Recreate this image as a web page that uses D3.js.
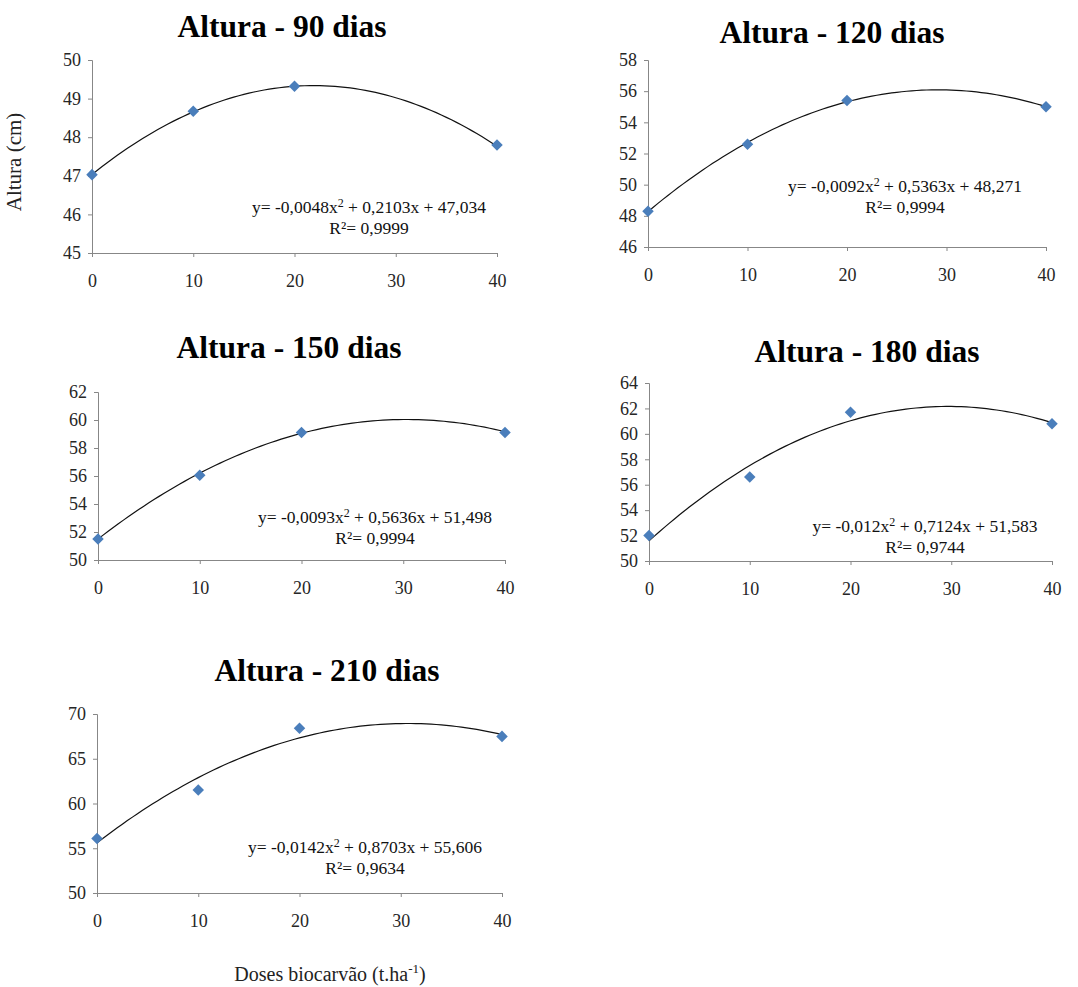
<!DOCTYPE html>
<html>
<head>
<meta charset="utf-8">
<script src="https://cdn.jsdelivr.net/npm/d3@7"></script>
<style>
body { margin: 0; background: #fff; }
</style>
</head>
<body>
<div id="chart"></div>
<script>
// Data
const doses = [0, 10, 20, 40];
const xTicks = [0, 10, 20, 30, 40];
const titles = ["Altura - 90 dias", "Altura - 120 dias", "Altura - 150 dias", "Altura - 180 dias", "Altura - 210 dias"];
const alt90 = [47.03, 48.67, 49.32, 47.80];
const alt120 = [48.3, 52.6, 55.4, 55.0];
const alt150 = [51.5, 56.05, 59.1, 59.1];
const alt180 = [52.0, 56.6, 61.7, 60.8];
const alt210 = [56.1, 61.5, 68.4, 67.5];
const yDomains = [[45, 50], [46, 58], [50, 62], [50, 64], [50, 70]];
const yTicks = [
  [45, 46, 47, 48, 49, 50],
  [46, 48, 50, 52, 54, 56, 58],
  [50, 52, 54, 56, 58, 60, 62],
  [50, 52, 54, 56, 58, 60, 62, 64],
  [50, 55, 60, 65, 70]
];
// trendline coefficients [a, b, c] for y = a x^2 + b x + c
const coefs = [
  [-0.0048, 0.2103, 47.034],
  [-0.0092, 0.5363, 48.271],
  [-0.0093, 0.5636, 51.498],
  [-0.012, 0.7124, 51.583],
  [-0.0142, 0.8703, 55.606]
];
const eqLabels = [
  ["y= -0,0048x", "+ 0,2103x + 47,034", "R²= 0,9999"],
  ["y= -0,0092x", "+ 0,5363x + 48,271", "R²= 0,9994"],
  ["y= -0,0093x", "+ 0,5636x + 51,498", "R²= 0,9994"],
  ["y= -0,012x", "+ 0,7124x + 51,583", "R²= 0,9744"],
  ["y= -0,0142x", "+ 0,8703x + 55,606", "R²= 0,9634"]
];
const series = [alt90, alt120, alt150, alt180, alt210];

const serif = "'Liberation Serif', 'Times New Roman', Tinos, 'DejaVu Serif', serif";

// Layout of each panel (pixels)
const layout = [
  { l: 92, r: 497, t: 60, b: 253, tx: 282, ty: 37, ex: 369, ey: 213 },
  { l: 648, r: 1046, t: 60, b: 247, tx: 832, ty: 43, ex: 905, ey: 192 },
  { l: 98, r: 505, t: 392, b: 560, tx: 289, ty: 358, ex: 375, ey: 523 },
  { l: 649, r: 1052, t: 383, b: 561, tx: 867, ty: 362, ex: 925, ey: 532 },
  { l: 97, r: 502, t: 714, b: 893, tx: 327, ty: 681, ex: 365, ey: 853 }
];

const svg = d3.select("#chart")
  .append("svg")
  .attr("width", 1078)
  .attr("height", 987)
  .style("font-family", serif);

series.forEach((vals, i) => {
  const L = layout[i];
  const g = svg.append("g");

  const x = d3.scaleLinear().domain([0, 40]).range([L.l, L.r]);
  const y = d3.scaleLinear().domain(yDomains[i]).range([L.b, L.t]);

  // Title
  g.append("text")
    .attr("x", L.tx)
    .attr("y", L.ty)
    .attr("text-anchor", "middle")
    .style("font-family", serif)
    .style("font-size", "31.5px")
    .style("font-weight", "bold")
    .attr("fill", "#000")
    .text(titles[i]);

  // Axes
  const xAxis = g.append("g")
    .attr("transform", `translate(0,${L.b})`)
    .call(d3.axisBottom(x).tickValues(xTicks).tickFormat(d3.format("d")).tickSize(4).tickPadding(17));
  const yAxis = g.append("g")
    .attr("transform", `translate(${L.l},0)`)
    .call(d3.axisLeft(y).tickValues(yTicks[i]).tickFormat(d3.format("d")).tickSize(4).tickPadding(7));

  [xAxis, yAxis].forEach(a => {
    a.attr("font-family", null);
    a.select(".domain").attr("stroke", "#878787");
    a.selectAll(".tick line").attr("stroke", "#878787");
    a.selectAll(".tick text")
      .attr("fill", "#262626")
      .style("font-size", "18px")
      .style("font-family", serif);
  });

  // Trendline
  const c = coefs[i];
  const xs = d3.range(0, 40.01, 0.5);
  const line = d3.line()
    .x(d => x(d))
    .y(d => y(c[0] * d * d + c[1] * d + c[2]));
  g.append("path")
    .datum(xs)
    .attr("d", line)
    .attr("fill", "none")
    .attr("stroke", "#111")
    .attr("stroke-width", 1.2);

  // Points
  g.selectAll(".dot")
    .data(vals)
    .enter()
    .append("path")
    .attr("class", "dot")
    .attr("d", d3.symbol(d3.symbolDiamond2, 85))
    .attr("transform", (d, j) => `translate(${x(doses[j])},${y(d)})`)
    .attr("fill", "#4a7ebb");

  // Equation
  const eq = g.append("text")
    .attr("x", L.ex)
    .attr("y", L.ey)
    .attr("text-anchor", "middle")
    .style("font-family", serif)
    .style("font-size", "17.5px")
    .attr("fill", "#111");
  eq.append("tspan").text(eqLabels[i][0]);
  eq.append("tspan").attr("dy", -6).style("font-size", "12px").text("2");
  eq.append("tspan").attr("dy", 6).text(" " + eqLabels[i][1]);

  g.append("text")
    .attr("x", L.ex)
    .attr("y", L.ey + 21)
    .attr("text-anchor", "middle")
    .style("font-family", serif)
    .style("font-size", "17.5px")
    .attr("fill", "#111")
    .text(eqLabels[i][2]);
});

// Axis titles
svg.append("text")
  .attr("transform", "translate(21,162) rotate(-90)")
  .attr("text-anchor", "middle")
  .style("font-family", serif)
  .style("font-size", "21px")
  .attr("fill", "#222")
  .text("Altura (cm)");

const xt = svg.append("text")
  .attr("x", 330)
  .attr("y", 981)
  .attr("text-anchor", "middle")
  .style("font-family", serif)
  .style("font-size", "20px")
  .attr("fill", "#222");
xt.append("tspan").text("Doses biocarvão (t.ha");
xt.append("tspan").attr("dy", -8).style("font-size", "13px").text("-1");
xt.append("tspan").attr("dy", 8).text(")");
</script>
</body>
</html>
